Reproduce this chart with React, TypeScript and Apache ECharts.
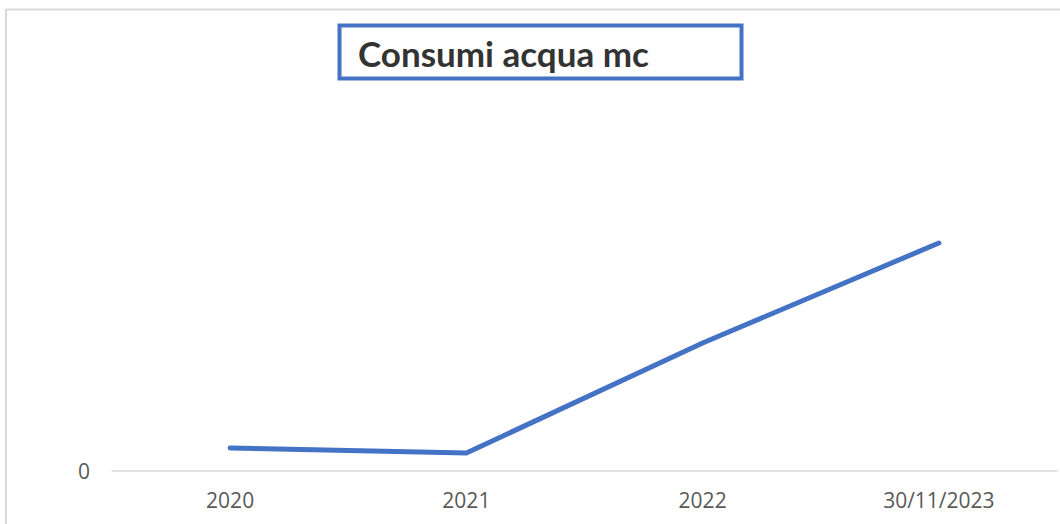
import React, { useEffect, useRef } from "react";
import * as echarts from "echarts";

const categories = ["2020", "2021", "2022", "30/11/2023"];
const consumi = [230, 180, 1280, 2280];
const titleText = "Consumi acqua mc";
const yMax = 4300;

export default function App() {
  const ref = useRef<HTMLDivElement>(null);
  useEffect(() => {
    document.body.style.margin = "0";
    const chart = echarts.init(ref.current!, null, { renderer: "svg" });
    chart.setOption({
      animation: false,
      backgroundColor: "#ffffff",
      grid: { left: 112, right: 3, top: 41, bottom: 53 },
      xAxis: {
        type: "category",
        data: categories,
        boundaryGap: true,
        axisTick: { show: false },
        axisLine: { lineStyle: { color: "#D9D9D9", width: 1.5 } },
        axisLabel: { color: "#595959", fontFamily: "Open Sans", fontSize: 21, margin: 18 },
      },
      yAxis: {
        type: "value",
        min: 0,
        max: yMax,
        interval: yMax,
        splitLine: { show: false },
        axisLine: { show: false },
        axisTick: { show: false },
        axisLabel: {
          color: "#595959",
          fontFamily: "Open Sans",
          fontSize: 21,
          margin: 22,
          formatter: (v: number) => (v === 0 ? "0" : ""),
        },
      },
      series: [
        {
          type: "line",
          data: consumi,
          symbol: "none",
          lineStyle: { color: "#4472C4", width: 5, cap: "round", join: "round" },
        },
      ],
      graphic: [
        {
          type: "line",
          shape: { x1: 6, y1: 9.5, x2: 1060, y2: 9.5 },
          style: { stroke: "#D9D9D9", lineWidth: 2 },
        },
        {
          type: "line",
          shape: { x1: 6, y1: 9, x2: 6, y2: 524 },
          style: { stroke: "#D9D9D9", lineWidth: 2 },
        },
        {
          type: "rect",
          shape: { x: 339.5, y: 25.5, width: 402, height: 53 },
          style: { fill: "#ffffff", stroke: "#4472C4", lineWidth: 4 },
        },
        {
          type: "text",
          x: 358,
          y: 53,
          style: {
            text: titleText,
            fill: "#333333",
            font: "bold 35px Lato",
            verticalAlign: "middle",
            align: "left",
          },
        },
      ],
    });
    return () => chart.dispose();
  }, []);
  return (
    <div
      ref={ref}
      style={{ position: "absolute", left: 0, top: 0, width: 1060, height: 524 }}
    />
  );
}
